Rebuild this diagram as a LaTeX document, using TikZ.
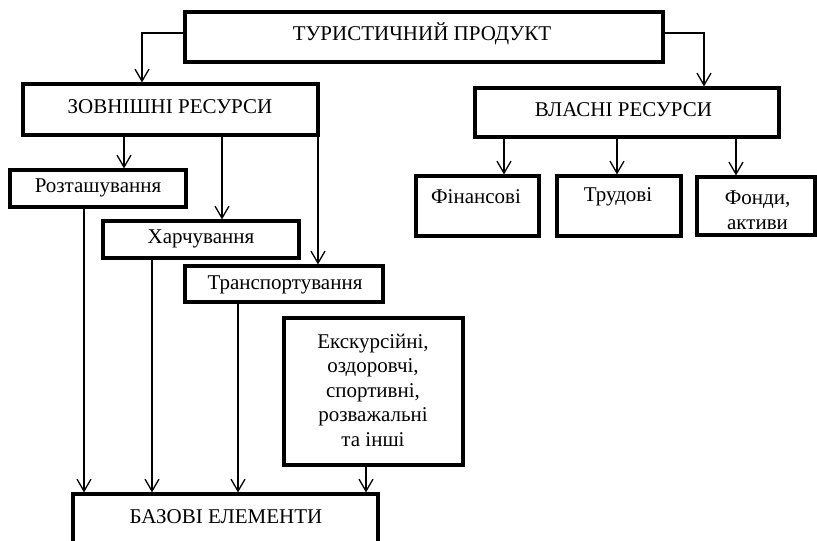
\documentclass[tikz,border=0pt]{standalone}
\usepackage{fontspec}
\setmainfont{Liberation Serif}
\usetikzlibrary{arrows.meta}
\begin{document}
\begin{tikzpicture}[x=1pt,y=-1pt,
  box/.style={draw, line width=3.2pt, inner sep=0pt, rectangle},
  txt/.style={inner sep=0pt, align=center, font=\fontsize{21}{24.5}\selectfont},
  link/.style={line width=1.3pt, -{Straight Barb[length=12pt,width=14pt,line width=1.3pt]}}]
\useasboundingbox (0,0) rectangle (817,541);
\clip (0,0) rectangle (817,541);

% boxes (centre, width, height)
\node[box, minimum width=478pt, minimum height=50pt] (prod)  at (424,37) {};
\node[box, minimum width=295pt, minimum height=51pt] (ext)   at (170.5,109.5) {};
\node[box, minimum width=304pt, minimum height=49pt] (own)   at (627,112.5) {};
\node[box, minimum width=176pt, minimum height=37pt] (roz)   at (98,188.5) {};
\node[box, minimum width=196pt, minimum height=37pt] (harch) at (201,239.5) {};
\node[box, minimum width=198pt, minimum height=36pt] (trans) at (284,284) {};
\node[box, minimum width=123pt, minimum height=60pt] (fin)   at (477.5,206) {};
\node[box, minimum width=124pt, minimum height=60pt] (trud)  at (619,206) {};
\node[box, minimum width=118pt, minimum height=58pt] (fond)  at (756,206) {};
\node[box, minimum width=179pt, minimum height=147pt] (exc)  at (373.5,391.5) {};
\node[box, minimum width=305pt, minimum height=100pt] (base) at (225.5,544) {};

% captions
\node[txt] (prod-t)  at (422,34)    {ТУРИСТИЧНИЙ ПРОДУКТ};
\node[txt] (ext-t)   at (170,107)   {ЗОВНІШНІ РЕСУРСИ};
\node[txt] (own-t)   at (623.5,110) {ВЛАСНІ РЕСУРСИ};
\node[txt] (roz-t)   at (98,188)    {Розташування};
\node[txt] (harch-t) at (201,239)   {Харчування};
\node[txt] (trans-t) at (285,285)   {Транспортування};
\node[txt] (fin-t)   at (476,197)   {Фінансові};
\node[txt] (trud-t)  at (618,197)   {Трудові};
\node[txt] (fond-t)  at (757.5,210) {Фонди,\\активи};
\node[txt] (exc-t)   at (373,390)   {Екскурсійні,\\оздоровчі,\\спортивні,\\розважальні\\та інші};
\node[txt] (base-t)  at (226,517)   {БАЗОВІ ЕЛЕМЕНТИ};

% connectors
\draw[link] ([yshift=4pt]prod.west) -| ([xshift=-28.5pt]ext.north);
\draw[link] ([yshift=4pt]prod.east) -| ([xshift=77pt]own.north);

\draw[link] ([xshift=-46.5pt]ext.south) -- ([xshift=26pt]roz.north);
\draw[link] ([xshift=51.5pt]ext.south) -- ([xshift=21pt]harch.north);
\draw[link] ([xshift=147.5pt]ext.south) -- ([xshift=34pt]trans.north);

\draw[link] ([xshift=-123pt]own.south) -- ([xshift=26.5pt]fin.north);
\draw[link] ([xshift=-10pt]own.south) -- ([xshift=-2pt]trud.north);
\draw[link] ([xshift=109pt]own.south) -- ([xshift=-20pt]fond.north);

\draw[link] ([xshift=-14pt]roz.south) -- ([xshift=-141.5pt]base.north);
\draw[link] ([xshift=-49pt]harch.south) -- ([xshift=-73.5pt]base.north);
\draw[link] ([xshift=-46pt]trans.south) -- ([xshift=12.5pt]base.north);
\draw[link] ([xshift=-7.5pt]exc.south) -- ([xshift=140.5pt]base.north);
\end{tikzpicture}
\end{document}
